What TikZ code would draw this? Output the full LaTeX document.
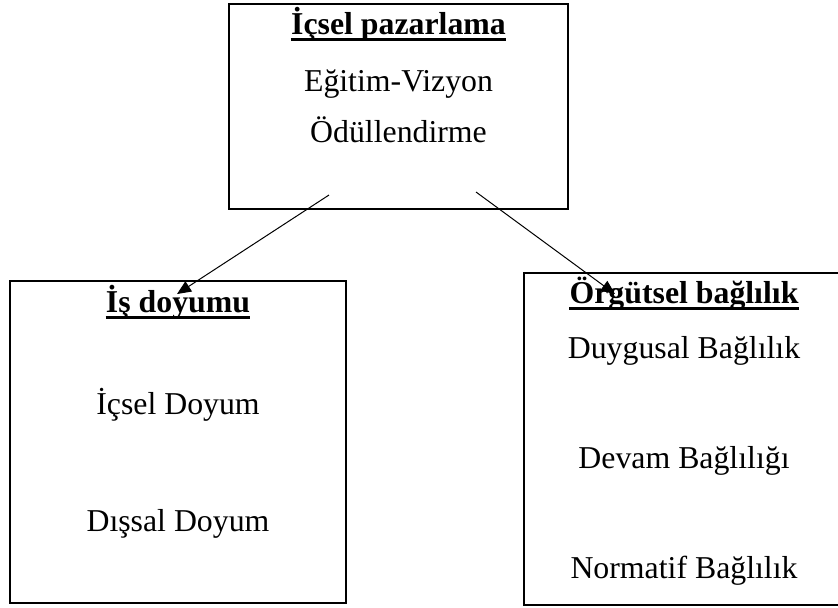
\documentclass[tikz,border=0pt]{standalone}
\usepackage{fontspec}
\setmainfont{Liberation Serif}
\usetikzlibrary{arrows.meta}
\begin{document}
\begin{tikzpicture}[x=0.5pt,y=-0.5pt,
  box/.style={draw, line width=1pt, rectangle, inner sep=0pt},
  txt/.style={anchor=base, inner sep=0pt, font=\fontsize{15.9pt}{19pt}\selectfont},
  head/.style={txt, font=\fontsize{15.9pt}{19pt}\selectfont\bfseries},
  uline/.style={line width=1.5pt},
  link/.style={line width=0.5pt, -{Triangle[length=7pt,width=6pt]}}]
\useasboundingbox (0,0) rectangle (838,607);

% boxes
\node[box, minimum width=169.5pt, minimum height=102.5pt] (top) at (398.5,106.5) {};
\node[box, minimum width=168pt, minimum height=161pt] (left) at (178,442) {};
\node[box, minimum width=158pt, minimum height=166pt] (right) at (682,439) {};

% top box contents
\node[head] (h1) at (398.5,34) {İçsel pazarlama};
\node[txt] (t1) at (398.5,91) {Eğitim-Vizyon};
\node[txt] (t2) at (398.5,142) {Ödüllendirme};

% left box contents
\node[head] (h2) at (178,312) {İş doyumu};
\node[txt] (l1) at (178,414) {İçsel Doyum};
\node[txt] (l2) at (178,531) {Dışsal Doyum};

% right box contents
\node[head] (h3) at (684,303) {Örgütsel bağlılık};
\node[txt] (r1) at (684,358) {Duygusal Bağlılık};
\node[txt] (r2) at (684,468) {Devam Bağlılığı};
\node[txt] (r3) at (684,578) {Normatif Bağlılık};

% heading underlines
\foreach \h in {h1,h2,h3}
  \draw[uline] ([yshift=-2.9pt]\h.base west) -- ([yshift=-2.9pt]\h.base east);

% connectors
\coordinate (s1) at (329,195);
\coordinate (e1) at (177,294);
\coordinate (s2) at (476,192);
\coordinate (e2) at (615,294);
\draw[link] (s1) -- (e1);
\draw[link] (s2) -- (e2);
\end{tikzpicture}
\end{document}
